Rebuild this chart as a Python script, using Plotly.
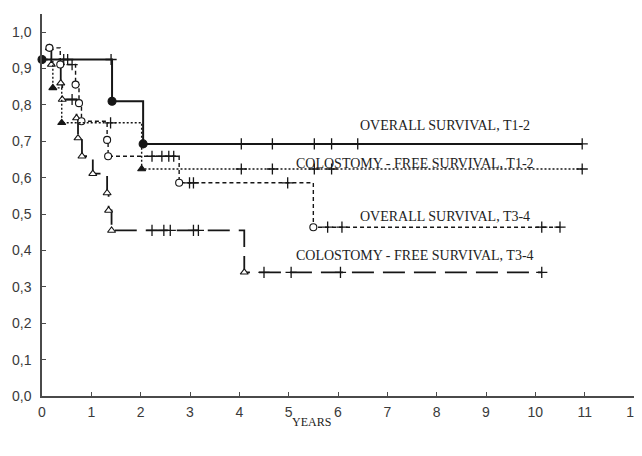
import plotly.graph_objects as go

# ---------------- data ----------------
years_ticks = list(range(0, 13))
surv_ticks = [0.0, 0.1, 0.2, 0.3, 0.4, 0.5, 0.6, 0.7, 0.8, 0.9, 1.0, 1.05]
surv_tick_text = ["0,0", "0,1", "0,2", "0,3", "0,4", "0,5", "0,6", "0,7", "0,8", "0,9", "1,0", ""]

# Overall survival, T1-2 (solid, filled circles)
os12_t = [0.0, 1.42, 2.05]
os12_s = [0.925, 0.810, 0.693]
os12_cens = [0.44, 0.52, 1.40, 4.04, 4.67, 5.52, 5.87, 6.40, 10.95]

# Colostomy-free survival, T1-2 (dotted, filled triangles)
cfs12_t = [0.0, 0.22, 0.40, 2.02]
cfs12_s = [0.925, 0.847, 0.751, 0.624]
cfs12_cens = [1.39, 4.04, 4.67, 5.52, 5.87, 10.95]

# Overall survival, T3-4 (dashed, open circles)
os34_t = [0.15, 0.37, 0.68, 0.75, 0.80, 1.32, 1.34, 2.78, 5.50]
os34_s = [0.957, 0.911, 0.856, 0.805, 0.755, 0.704, 0.659, 0.586, 0.464]
os34_cens = [0.61, 2.23, 2.43, 2.57, 2.67, 2.99, 3.07, 4.98, 5.79, 6.08, 10.13, 10.50]

# Colostomy-free survival, T3-4 (long dash, open triangles)
cfs34_t = [0.15, 0.19, 0.38, 0.41, 0.70, 0.73, 0.81, 1.03, 1.32, 1.35, 1.41, 4.10]
cfs34_s = [0.957, 0.911, 0.860, 0.815, 0.764, 0.709, 0.659, 0.611, 0.558, 0.510, 0.455, 0.340]
cfs34_cens = [0.61, 2.23, 2.47, 2.60, 3.07, 3.17, 4.50, 5.05, 6.05, 10.13]

labels = ["OVERALL SURVIVAL, T1-2", "COLOSTOMY - FREE SURVIVAL, T1-2",
          "OVERALL SURVIVAL, T3-4", "COLOSTOMY - FREE SURVIVAL, T3-4"]
label_x = [6.41, 5.10, 6.41, 5.11]
label_y = [0.743, 0.638, 0.494, 0.386]

INK = "#161616"


def level_at(t, ev_t, ev_s):
    s = ev_s[0]
    for et, es in zip(ev_t, ev_s):
        if et <= t:
            s = es
    return s


def add_curve(fig, ev_t, ev_s, cens, dash, width, symbol, msize, fill, skip_first=False):
    end = max([ev_t[-1]] + cens)
    fig.add_trace(go.Scatter(
        x=ev_t + [end], y=ev_s + [ev_s[-1]], mode="lines", line_shape="hv",
        line=dict(color=INK, width=width, dash=dash), cliponaxis=False,
        hoverinfo="skip", showlegend=False))
    cy = [level_at(t, ev_t, ev_s) for t in cens]
    fig.add_trace(go.Scatter(
        x=cens, y=cy, mode="markers", cliponaxis=False, showlegend=False,
        marker=dict(symbol="cross-thin", size=8, line=dict(color=INK, width=1.3))))
    mt = ev_t[1:] if skip_first else ev_t
    ms = ev_s[1:] if skip_first else ev_s
    fig.add_trace(go.Scatter(
        x=mt, y=ms, mode="markers", cliponaxis=False, showlegend=False,
        marker=dict(symbol=symbol, size=msize, color=fill,
                    line=dict(color=INK, width=1.1))))


fig = go.Figure()
add_curve(fig, cfs34_t, cfs34_s, cfs34_cens, "22px,9px", 1.8, "triangle-up", 7, "white")
add_curve(fig, os34_t, os34_s, os34_cens, "4px,3px", 1.4, "circle", 7, "white")
add_curve(fig, cfs12_t, cfs12_s, cfs12_cens, "2px,2px", 1.4, "triangle-up", 7, INK, skip_first=True)
add_curve(fig, os12_t, os12_s, os12_cens, None, 2.0, "circle", 8, INK)

for txt, lx, ly in zip(labels, label_x, label_y):
    fig.add_annotation(x=lx, y=ly, xref="x", yref="y", text=txt, showarrow=False,
                       xanchor="left", yanchor="middle",
                       font=dict(family="Liberation Serif", size=14, color="#222"))

fig.add_annotation(x=0.455, y=-0.068, xref="paper", yref="paper", text="YEARS",
                   showarrow=False, xanchor="center", yanchor="middle",
                   font=dict(family="Liberation Serif", size=12, color="#222"))

axis_common = dict(showgrid=False, zeroline=False, showline=True, linecolor="#4a4a4a",
                   linewidth=1.5, ticks="inside", ticklen=4, tickcolor="#4a4a4a",
                   tickwidth=1.2, automargin=False, ticklabeloverflow="allow",
                   tickfont=dict(family="Liberation Sans", size=14, color="#3a3a3a"))

# the page adds an 8px body margin, so the plot area is shifted to compensate
fig.update_layout(
    width=642, height=456,
    margin=dict(l=34, r=16, t=6, b=68),
    paper_bgcolor="white", plot_bgcolor="white",
    xaxis=dict(range=[0, 12], tickvals=years_ticks, ticklabelstandoff=2, **axis_common),
    yaxis=dict(range=[0, 1.05], tickvals=surv_ticks, ticktext=surv_tick_text,
               ticklabelstandoff=6, **axis_common),
)

fig.write_html("out.html")
